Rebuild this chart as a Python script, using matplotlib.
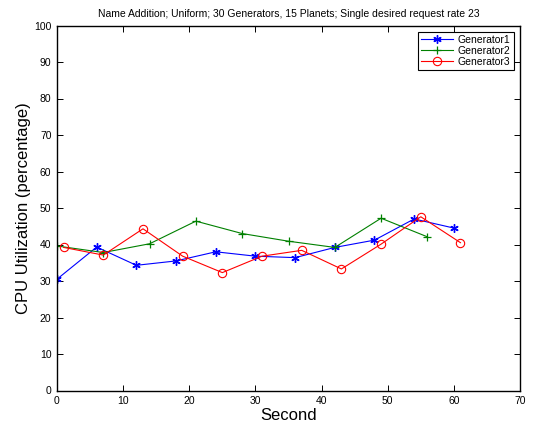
import matplotlib
matplotlib.use("Agg")
import matplotlib.pyplot as plt

plt.rcParams['font.family'] = ['Liberation Sans', 'DejaVu Sans']

title = "Name Addition; Uniform; 30 Generators, 15 Planets; Single desired request rate 23"
x1 = [0, 6, 12, 18, 24, 30, 36, 42, 48, 54, 60]
y1 = [30.5, 39.3, 34.3, 35.5, 38.0, 36.8, 36.4, 39.2, 41.2, 47.0, 44.5]
x2 = [0, 7, 14, 21, 28, 35, 42, 49, 56]
y2 = [39.6, 37.8, 40.2, 46.4, 43.0, 40.9, 39.2, 47.2, 42.1]
x3 = [1, 7, 13, 19, 25, 31, 37, 43, 49, 55, 61]
y3 = [39.2, 37.1, 44.3, 36.8, 32.3, 36.8, 38.4, 33.3, 40.1, 47.6, 40.5]
xticks = [0, 10, 20, 30, 40, 50, 60, 70]
yticks = [0, 10, 20, 30, 40, 50, 60, 70, 80, 90, 100]

fig = plt.figure(figsize=(5.36, 4.25), dpi=100)
ax = fig.add_axes([57/536, 1-390.5/425, 463/536, 365/425])
ax.plot(x1, y1, color='#0000ff', marker=(6, 2, 0), ms=6, mew=1.0, lw=0.8, label='Generator1')
ax.plot(x2, y2, color='#008000', marker='+', ms=6, mew=0.9, lw=0.8, label='Generator2')
ax.plot(x3, y3, color='#ff0000', marker='o', ms=6, mfc='none', mew=0.8, lw=0.8, label='Generator3')
ax.set_xlim(0, 70)
ax.set_ylim(0, 100)
ax.set_xticks(xticks)
ax.set_yticks(yticks)
ax.tick_params(direction='in', top=True, right=True, labelsize=7.5, length=4, width=0.7, pad=4)
for s in ax.spines.values():
    s.set_linewidth(1.0)
ax.set_title(title, fontsize=7.5, pad=6)
ax.set_xlabel('Second', fontsize=12, labelpad=1.5)
ax.set_ylabel('CPU Utilization (percentage)', fontsize=12, labelpad=2)
leg = ax.legend(loc='upper right', fontsize=7.5, fancybox=False, edgecolor='black',
                framealpha=1, handlelength=3.0, borderaxespad=0.6, labelspacing=0.1,
                borderpad=0.3, handletextpad=0.5)
leg.get_frame().set_linewidth(0.8)
fig.savefig('out.png', dpi=100)
